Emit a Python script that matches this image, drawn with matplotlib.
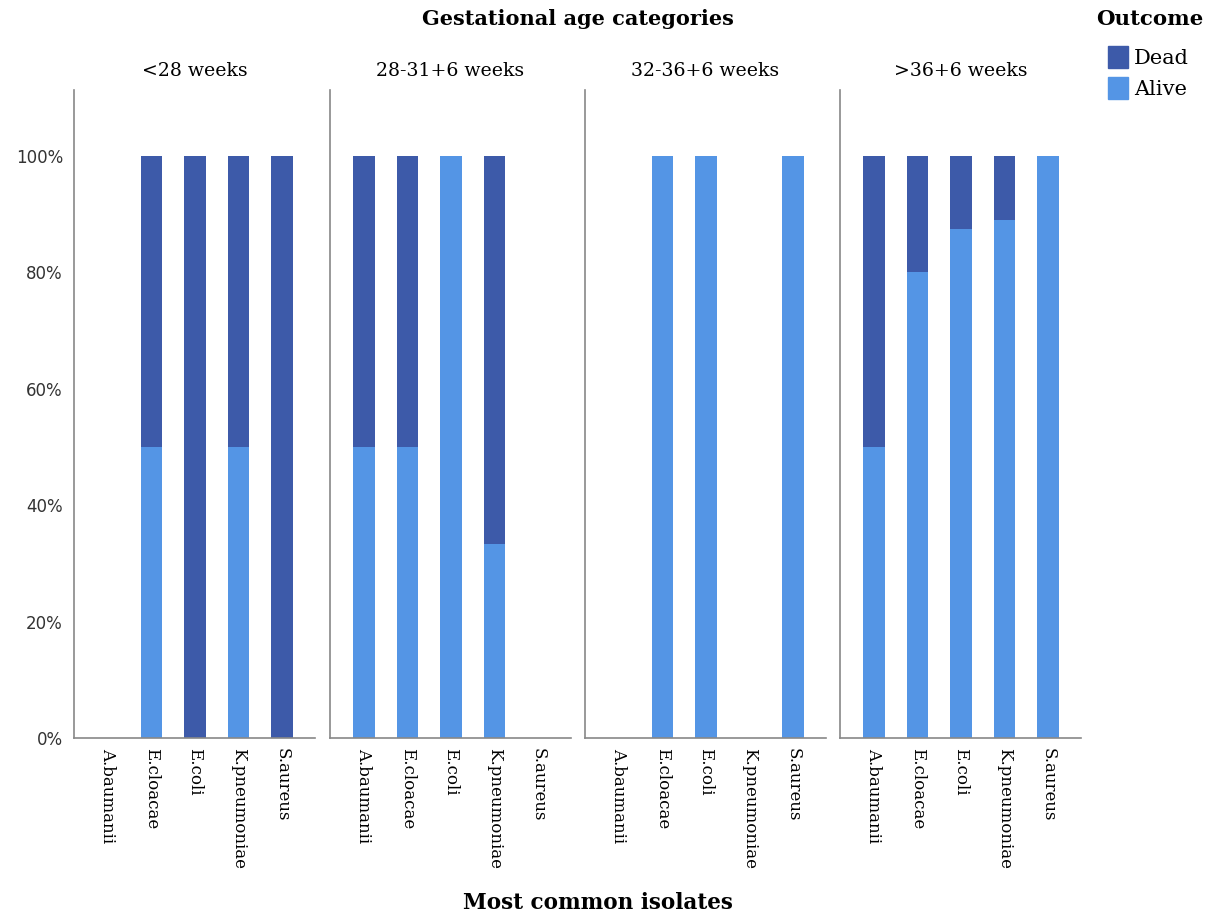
import numpy as np
import matplotlib
matplotlib.use('Agg')
import matplotlib.pyplot as plt
from matplotlib.patches import Patch

# --- data (percent of isolates per gestational age group) ---
groups = ['<28 weeks', '28-31+6 weeks', '32-36+6 weeks', '>36+6 weeks']
isolates = ['A.baumanii', 'E.cloacae', 'E.coli', 'K.pneumoniae', 'S.aureus']

alive_pct = [
    [0, 50, 0, 50, 0],
    [50, 50, 100, 33.3, 0],
    [0, 100, 100, 0, 100],
    [50, 80, 87.5, 88.9, 100],
]
dead_pct = [
    [0, 50, 100, 50, 100],
    [50, 50, 0, 66.7, 0],
    [0, 0, 0, 0, 0],
    [50, 20, 12.5, 11.1, 0],
]

DEAD = '#3D5AA9'
ALIVE = '#5495E5'
SERIF = 'DejaVu Serif'
SPINE = '#888888'

W, H = 1213, 917
fig = plt.figure(figsize=(W / 100, H / 100), dpi=100)

panel_left = [74, 330, 585, 840]
panel_w = 241
top_px, bot_px = 90, 738
x = np.arange(len(isolates))

axes = []
for i, g in enumerate(groups):
    ax = fig.add_axes([panel_left[i] / W, (H - bot_px) / H,
                       panel_w / W, (bot_px - top_px) / H])
    ax.bar(x, alive_pct[i], width=0.5, color=ALIVE)
    ax.bar(x, dead_pct[i], width=0.5, bottom=alive_pct[i], color=DEAD)
    ax.set_xlim(-0.78, 4.76)
    ax.set_ylim(0, 111.3)
    for s in ['top', 'right']:
        ax.spines[s].set_visible(False)
    for s in ['left', 'bottom']:
        ax.spines[s].set_color(SPINE)
        ax.spines[s].set_linewidth(1.2)
    ax.set_xticks(x)
    ax.set_xticklabels(isolates, rotation=-90, fontfamily=SERIF, fontsize=12,
                       va='top', ha='center')
    ax.tick_params(length=0, pad=7)
    ax.set_yticks([0, 20, 40, 60, 80, 100])
    if i == 0:
        ax.set_yticklabels([f'{v}%' for v in [0, 20, 40, 60, 80, 100]],
                           fontfamily='DejaVu Sans', fontsize=12, color='#333333')
        ax.tick_params(axis='y', pad=8)
    else:
        ax.set_yticklabels([])
    ax.set_title(g, fontfamily=SERIF, fontsize=13.6, pad=10)
    axes.append(ax)

fig.text(578 / W, 1 - 19 / H, 'Gestational age categories', ha='center',
         va='center', fontfamily=SERIF, fontweight='bold', fontsize=15)
fig.text(598 / W, 1 - 903 / H, 'Most common isolates', ha='center',
         va='center', fontfamily=SERIF, fontweight='bold', fontsize=15.5)
fig.text(1150 / W, 1 - 19 / H, 'Outcome', ha='center', va='center',
         fontfamily=SERIF, fontweight='bold', fontsize=15.3)

handles = [Patch(color=DEAD, label='Dead'), Patch(color=ALIVE, label='Alive')]
fig.legend(handles=handles, loc='upper left',
           bbox_to_anchor=(1108 / W, 1 - 46 / H), frameon=False,
           prop={'family': SERIF, 'size': 15}, handlelength=0.95,
           handleheight=1.25, handletextpad=0.3, labelspacing=0.42,
           borderaxespad=0, borderpad=0)

fig.savefig('out.png', dpi=100)
